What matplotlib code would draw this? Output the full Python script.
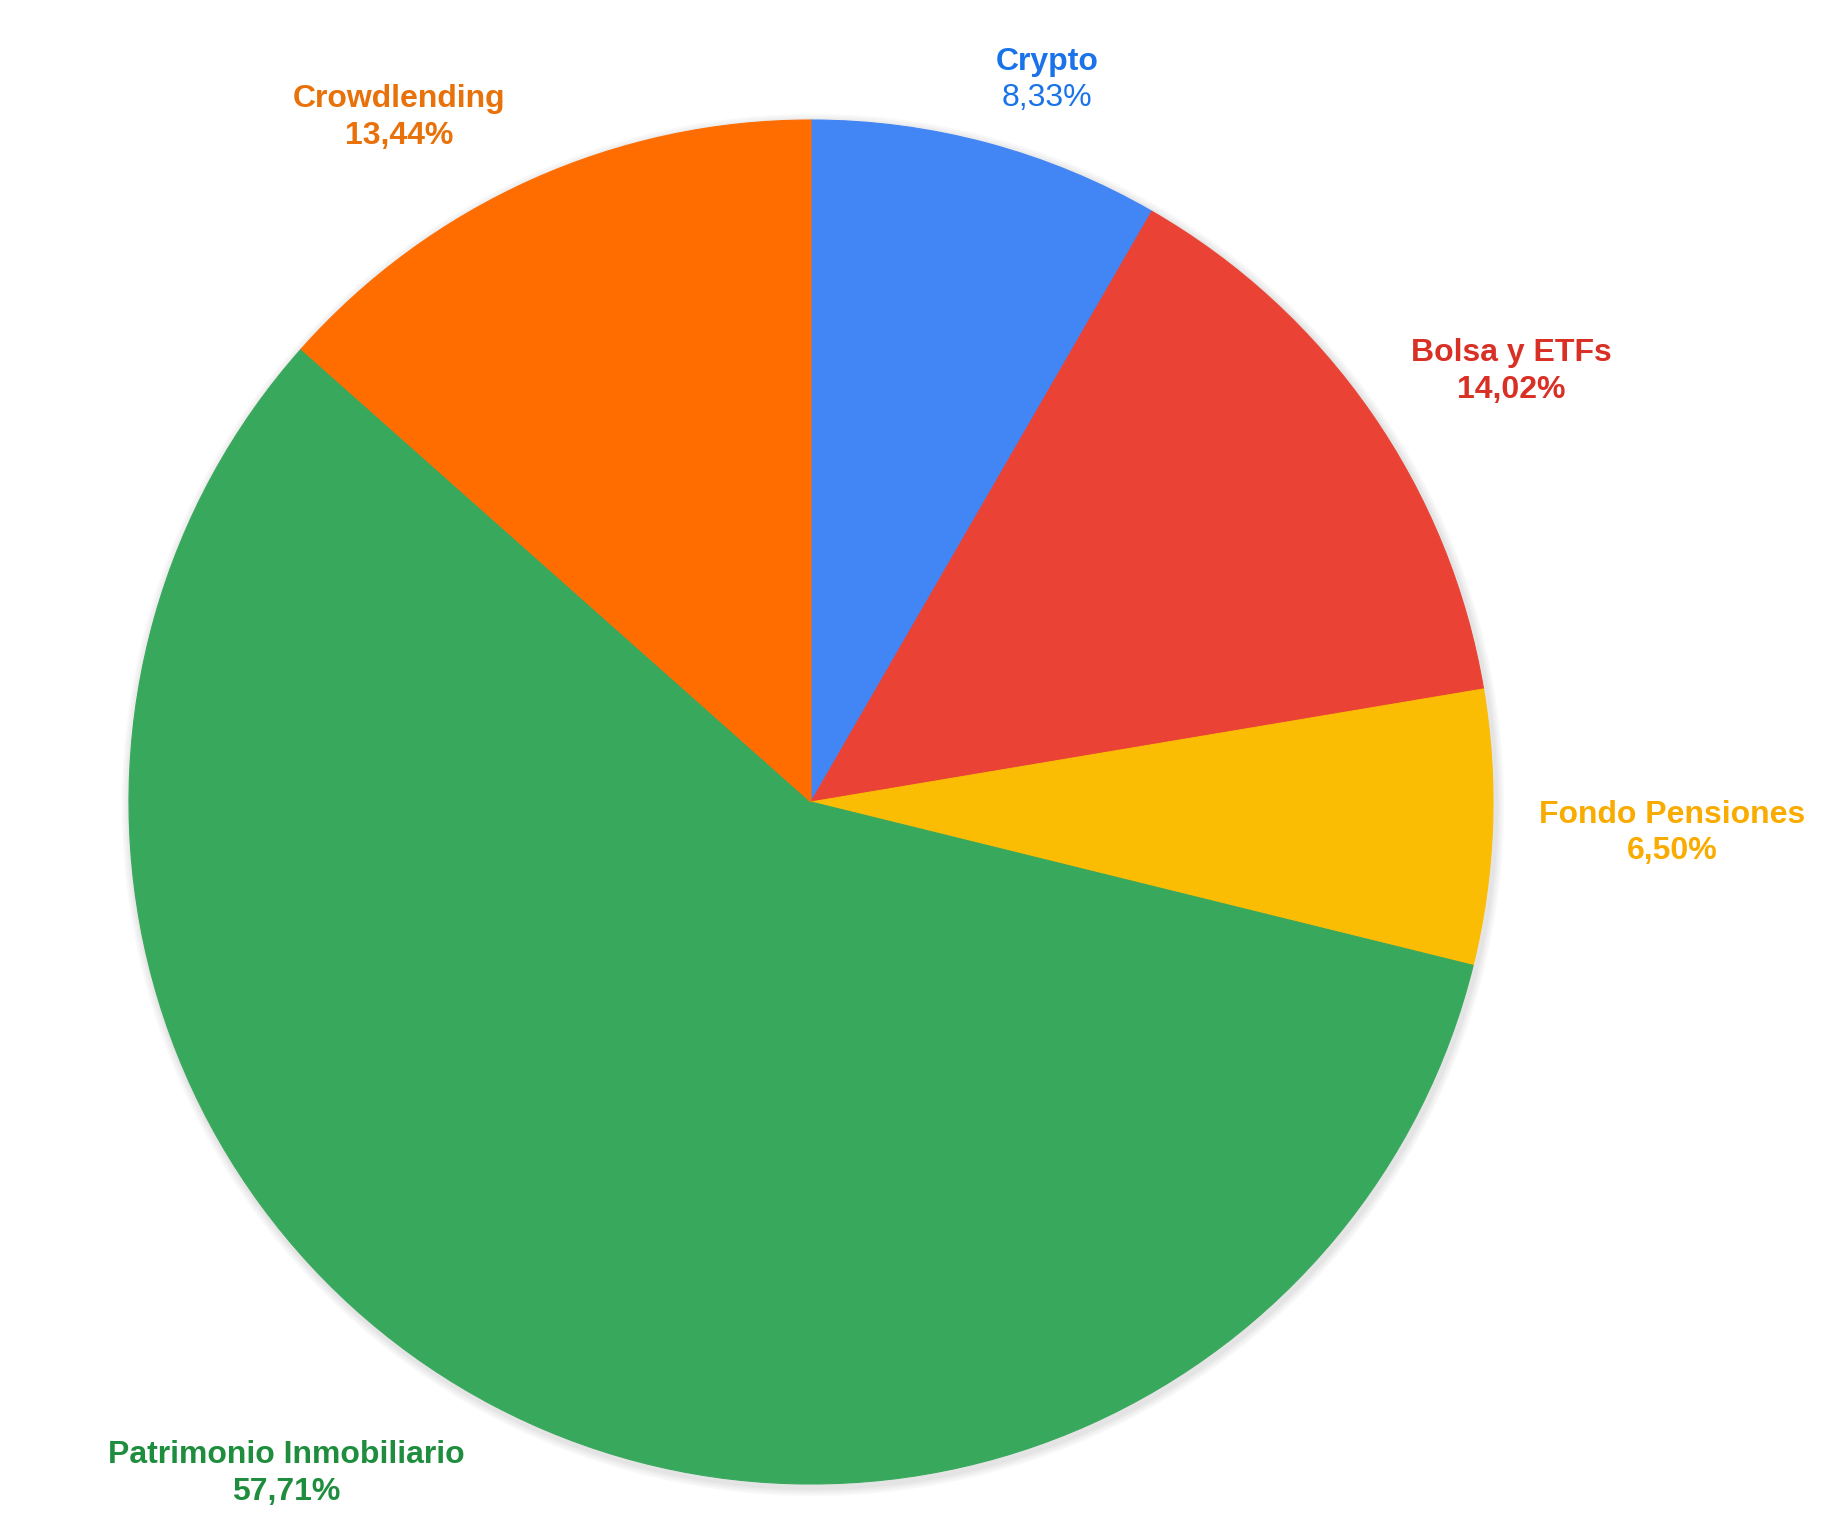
import matplotlib
matplotlib.use("Agg")
import matplotlib.pyplot as plt
from matplotlib.patches import Circle

categories = ["Crypto", "Bolsa y ETFs", "Fondo Pensiones", "Patrimonio Inmobiliario", "Crowdlending"]
values = [8.33, 14.02, 6.50, 57.71, 13.44]
pct_labels = ["8,33%", "14,02%", "6,50%", "57,71%", "13,44%"]
wedge_colors = ["#4285F4", "#EA4335", "#FBBC04", "#38A85D", "#FF6D01"]
text_colors = ["#1A73E8", "#D93025", "#F9AB00", "#1E8E3E", "#E8710A"]

W, H = 1840, 1526
fig = plt.figure(figsize=(W / 100, H / 100), dpi=100)
ax = fig.add_axes([0, 0, 1, 1])
ax.set_xlim(0, W)
ax.set_ylim(0, H)
ax.set_aspect("equal")
ax.axis("off")

cx, cy, r = 811, H - 802, 682

# soft shadow
for i, a in enumerate([0.05, 0.05, 0.06, 0.07]):
    ax.add_patch(Circle((cx + 2, cy - 3), r + 9 - i * 2, color="#888888", alpha=a, lw=0, zorder=1))

ax.pie(values, colors=wedge_colors, startangle=90, counterclock=False,
       center=(cx, cy), radius=r, frame=True,
       wedgeprops=dict(linewidth=0.8, edgecolor=None))
for w, c in zip(ax.patches[-len(values):], wedge_colors):
    w.set_edgecolor(c)
    w.set_zorder(2)

ax.set_xlim(0, W)
ax.set_ylim(0, H)
ax.axis("off")

# label layout (pixel positions of name line / percent line)
label_pos = [(1047, 62, 98), (1511, 353, 390), (1672, 815, 851), (286, 1455, 1492), (399, 99, 136)]
for name, pct, col, (x, y1, y2) in zip(categories, pct_labels, text_colors, label_pos):
    ax.text(x, H - y1, name, color=col, fontsize=23, fontweight="bold",
            family="Liberation Sans", ha="center", va="center")
    ax.text(x, H - y2, pct, color=col, fontsize=23,
            fontweight="normal" if name == "Crypto" else "bold",
            family="Liberation Sans", ha="center", va="center")

fig.savefig("out.png", dpi=100, facecolor="white")
